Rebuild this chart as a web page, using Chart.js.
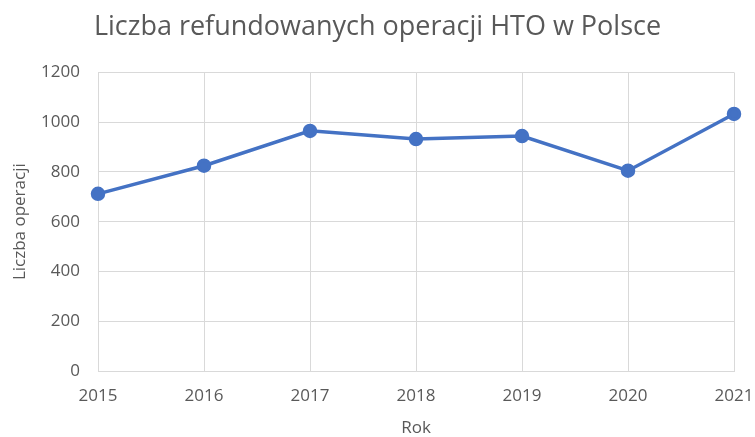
<!DOCTYPE html>
<html>
<head>
<meta charset="utf-8">
<script src="https://cdn.jsdelivr.net/npm/chart.js@4"></script>
<style>
  body { margin: 0; background: #fff; }
  #wrap { width: 755px; height: 437px; }
</style>
</head>
<body>
<div id="wrap"><canvas id="lineChart" width="755" height="437"></canvas></div>
<script>
// Data
var years = ['2015', '2016', '2017', '2018', '2019', '2020', '2021'];
var operations = [712, 825, 965, 932, 944, 805, 1033];
var yTicks = [0, 200, 400, 600, 800, 1000, 1200];

var textColor = '#595959';
var gridColor = '#d9d9d9';
var fontName = '"Open Sans", sans-serif';

const ctx = document.getElementById('lineChart');

new Chart(ctx, {
    type: 'line',
    data: {
        labels: years,
        datasets: [{
            label: 'Liczba operacji',
            data: operations,
            borderColor: '#4472c4',
            backgroundColor: '#4472c4',
            borderWidth: 3.5,
            pointRadius: 5.5,
            pointHoverRadius: 5.5,
            tension: 0
        }]
    },
    options: {
        responsive: false,
        animation: false,
        layout: {
            padding: 0
        },
        plugins: {
            legend: { display: false },
            tooltip: { enabled: false },
            title: {
                display: true,
                text: 'Liczba refundowanych operacji HTO w Polsce',
                color: textColor,
                font: { family: fontName, size: 27, weight: 'normal' },
                padding: { top: 11, bottom: 29 }
            }
        },
        scales: {
            x: {
                offset: false,
                grid: { color: gridColor, lineWidth: 1, drawTicks: false },
                border: { color: gridColor },
                ticks: {
                    color: textColor,
                    font: { family: fontName, size: 17 },
                    padding: 15,
                    maxRotation: 0
                },
                title: {
                    display: true,
                    text: 'Rok',
                    color: textColor,
                    font: { family: fontName, size: 17 },
                    padding: { top: 0, bottom: -1 }
                },
                afterFit: function (scale) {
                    scale.height = 66;
                    // fixed right margin, the last year label hangs into it
                    scale.paddingLeft = 0;
                    scale.paddingRight = 21;
                }
            },
            y: {
                min: 0,
                max: 1200,
                grid: { color: gridColor, lineWidth: 1, drawTicks: false },
                border: { color: gridColor },
                afterBuildTicks: function (scale) {
                    scale.ticks = yTicks.map(function (v) { return { value: v }; });
                },
                ticks: {
                    color: textColor,
                    font: { family: fontName, size: 17 },
                    padding: 18,
                    callback: function (value) { return String(value); }
                },
                title: {
                    display: true,
                    text: 'Liczba operacji',
                    color: textColor,
                    font: { family: fontName, size: 17 },
                    padding: { top: 10, bottom: 0 }
                },
                afterFit: function (scale) { scale.width = 98; }
            }
        }
    }
});
</script>
</body>
</html>
